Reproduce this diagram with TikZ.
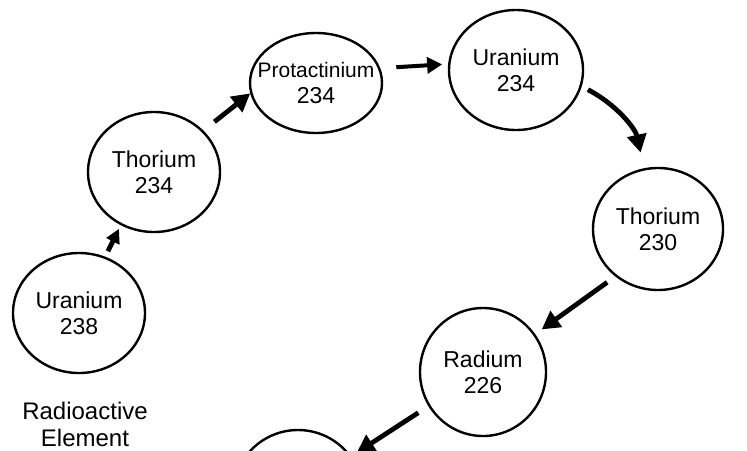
\documentclass[tikz,border=0pt]{standalone}
\usepackage{fontspec}
\setmainfont{Liberation Sans}
\usetikzlibrary{shapes.geometric,arrows.meta}

\begin{document}
\begin{tikzpicture}[x=0.5pt,y=-0.5pt,
	isotope/.style={draw,ellipse,line width=1.2pt,inner sep=0pt,label={center:#1}},
	every label/.style={align=center,font=\fontsize{11.5}{13}\selectfont},
	decay/.style={-{Triangle[length=9pt,width=9.5pt]},line width=2.4pt}]
	\useasboundingbox (0,0) rectangle (747,450);
	% chain of isotopes
	\node [isotope={Uranium\\238},minimum width=66pt,minimum height=60pt] (u238) at (79,313) {};
	\node [isotope={Thorium\\234},minimum width=66pt,minimum height=60pt] (th234) at (154,172) {};
	\node [isotope={\fontsize{10.5}{14}\selectfont Protactinium\\234},minimum width=66pt,minimum height=50pt] (pa234) at (316,83) {};
	\node [isotope={Uranium\\234},minimum width=67pt,minimum height=60pt] (u234) at (516,70) {};
	\node [isotope={Thorium\\230},minimum width=65pt,minimum height=61pt] (th230) at (658,229) {};
	\node [isotope={Radium\\226},minimum width=63pt,minimum height=64pt] (ra226) at (483,372) {};
	\node [isotope={},minimum width=65pt,minimum height=65pt] (next) at (298,495) {};
	\node [align=center,font=\fontsize{12}{13.5}\selectfont] (legend) at (85,424) {Radioactive\\Element};
	% decay arrows
	\draw [decay,-{Triangle[length=7pt,width=7pt]},shorten <=3pt,shorten >=2pt] (u238.65) -- (th234.238);
	\draw [decay,shorten <=7pt,shorten >=0pt] (th234.40) -- (pa234.189);
	\draw [decay,line width=2pt,-{Triangle[length=7.5pt,width=8pt]},shorten <=8pt,shorten >=3pt] (pa234.13) -- (u234.175);
	\draw [decay,shorten <=3.5pt,shorten >=8pt] (u234.-14) to[bend left=25] (th230.103);
	\draw [decay,shorten <=5pt,shorten >=4pt] (th230.228) -- (ra226.36);
	\draw [decay,shorten <=6pt,shorten >=3pt] (ra226.212) -- (next.36);
\end{tikzpicture}
\end{document}
